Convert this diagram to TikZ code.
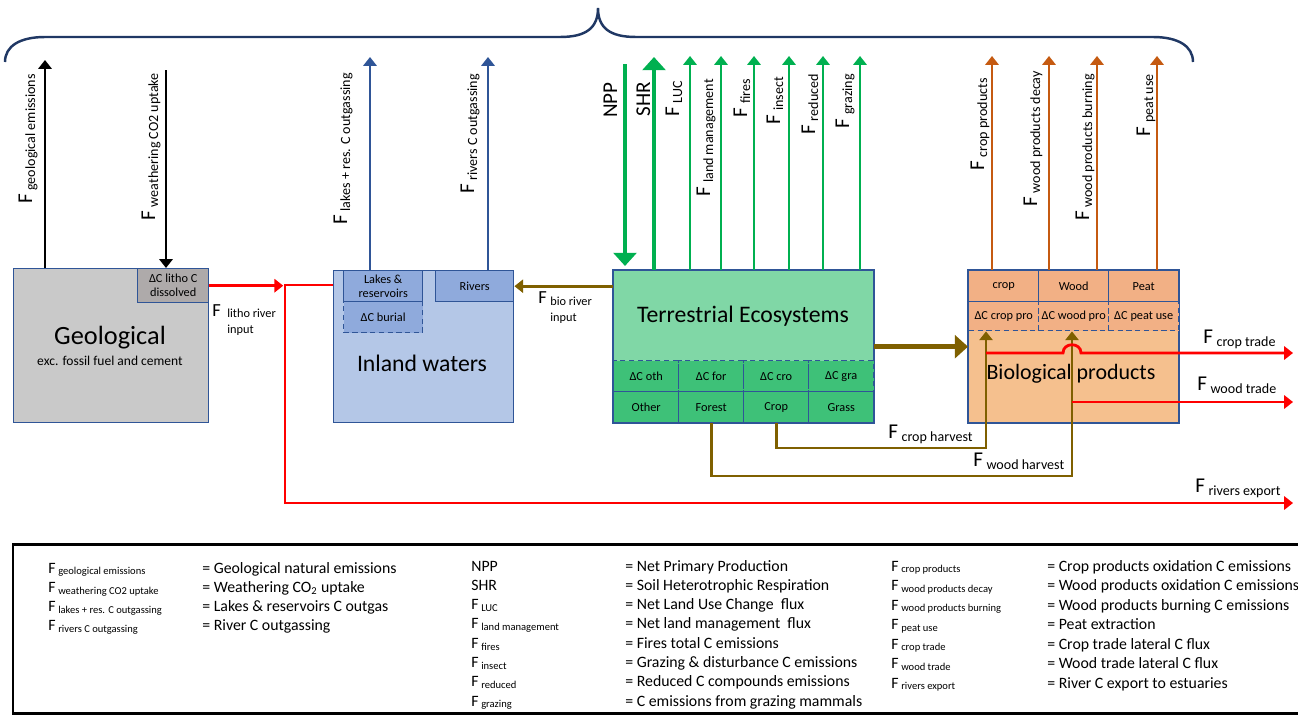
\documentclass[tikz,border=0pt]{standalone}
\usepackage{fontspec}
\setmainfont{Carlito}
\usetikzlibrary{arrows.meta,positioning}

\definecolor{bordblue}{RGB}{47,85,151}
\definecolor{bracenavy}{RGB}{32,56,100}
\definecolor{geofill}{RGB}{201,201,201}
\definecolor{lithofill}{RGB}{174,170,170}
\definecolor{waterfill}{RGB}{180,199,231}
\definecolor{waterbox}{RGB}{143,170,220}
\definecolor{terrfill}{RGB}{128,215,166}
\definecolor{terrcell}{RGB}{62,193,120}
\definecolor{biofill}{RGB}{245,192,142}
\definecolor{biocell}{RGB}{242,176,133}
\definecolor{fluxgreen}{RGB}{0,176,80}
\definecolor{fluxorange}{RGB}{197,90,17}
\definecolor{fluxbrown}{RGB}{127,96,0}
\definecolor{fluxred}{RGB}{255,0,0}

\newcommand{\Fs}[1]{F\,\textsubscript{#1}}

\tikzset{
  box/.style={draw=bordblue, line width=0.8pt, inner sep=0pt, anchor=north west},
  cell/.style={box, font=\fontsize{7}{8}\selectfont, align=center},
  flux/.style={line width=1.6pt, -{Triangle[width=7.5pt,length=5pt]}},
  fluxthick/.style={line width=2.8pt, -{Triangle[width=13pt,length=7.5pt]}},
  vlab/.style={rotate=90, anchor=base east, inner sep=0pt, font=\fontsize{12}{12}\selectfont},
  hlab/.style={anchor=base west, inner sep=0pt, font=\fontsize{12}{12}\selectfont},
  legend/.style={anchor=base west, inner sep=0pt, font=\fontsize{9}{9}\selectfont},
}

\begin{document}
\begin{tikzpicture}[x=0.02cm, y=-0.02cm]
  \useasboundingbox (0,0) rectangle (1298,720);
  \clip (0,0) rectangle (1298,720);

  % brace over the emissions
  \draw[bracenavy, line width=1.4pt] (5,62) .. controls (5,46) and (20,37) .. (45,37)
    -- (560,37) .. controls (586,37) and (598,28) .. (598,8)
    .. controls (598,28) and (610,37) .. (636,37)
    -- (1153,37) .. controls (1178,37) and (1193,46) .. (1193,62);

  % Geological
  \node[box, fill=geofill, minimum width=3.9cm, minimum height=3.08cm] (geo) at (13,268) {};
  \node[cell, fill=lithofill, minimum width=1.42cm, minimum height=0.68cm] (litho) at (137,268) {ΔC litho C\\dissolved};
  \node[font=\fontsize{15}{15}\selectfont] (geotxt) at (110,338) {Geological};
  \node[font=\fontsize{7.7}{8}\selectfont] (geosub) at (110,361) {exc. fossil fuel and cement};

  % Inland waters
  \node[box, fill=waterfill, minimum width=3.6cm, minimum height=3.04cm] (inland) at (333,270) {};
  \node[cell, fill=waterbox, minimum width=1.58cm, minimum height=0.62cm] (lakes) at (343,270) {Lakes \&\\reservoirs};
  \node[cell, fill=waterbox, densely dashed, minimum width=1.58cm, minimum height=0.62cm] (burial) at (343,301) {ΔC burial};
  \node[cell, fill=waterbox, minimum width=1.56cm, minimum height=0.62cm] (rivers) at (435,270) {Rivers};
  \node[font=\fontsize{13.5}{14}\selectfont] (inltxt) at (422,363) {Inland waters};

  % Terrestrial ecosystems
  \node[box, fill=terrfill, minimum width=5.2cm, minimum height=3.04cm] (terr) at (613,270) {};
  \foreach \nm/\lab [count=\i from 0] in {oth/Other, for/Forest, cro/Crop, gra/Grass} {
    \node[cell, fill=terrcell, densely dashed, minimum width=1.3cm, minimum height=0.62cm] (d\nm) at ({613+65*\i},360) {ΔC \nm};
    \node[cell, fill=terrcell, minimum width=1.3cm, minimum height=0.62cm] (c\nm) at ({613+65*\i},391) {\lab};
  }
  \draw[bordblue, line width=0.8pt] (terr.north west) rectangle (terr.south east);
  \node[font=\fontsize{13.5}{14}\selectfont] (terrtxt) at (743,316) {Terrestrial Ecosystems};

  % Biological products
  \node[box, fill=biofill, minimum width=4.2cm, minimum height=3.04cm] (bio) at (968,270) {};
  \foreach \nm/\toplab/\dl [count=\i from 0] in {crop/crop/crop pro, wood/Wood/wood pro, peat/Peat/peat use} {
    \node[cell, fill=biocell, minimum width=1.4cm, minimum height=0.62cm] (p\nm) at ({968+70*\i},270) {\toplab};
    \node[cell, fill=biocell, densely dashed, minimum width=1.4cm, minimum height=0.58cm] (d\nm) at ({968+70*\i},301) {ΔC \dl};
  }
  \draw[bordblue, line width=0.8pt] (bio.north west) rectangle (bio.south east);
  \node[font=\fontsize{12.5}{13}\selectfont] (biotxt) at (1071,374) {Biological products};

  % vertical fluxes, geological
  \coordinate (egeo) at (45,60);
  \coordinate (swth) at (166,70);
  \draw[flux, black] (egeo |- geo.north) -- (egeo);
  \draw[flux, black] (swth) -- (swth |- geo.north);
  \node[vlab] (lgeo) at (32,73) {\Fs{geological emissions}};
  \node[vlab] (lwth) at (155,72) {\Fs{weathering CO2 uptake}};

  % vertical fluxes, inland waters
  \foreach \x/\nm/\lx/\ty/\sub in {370/lk/347/72/lakes + res. C outgassing, 488/rv/474/73/rivers C outgassing} {
    \coordinate (e\nm) at (\x,57);
    \draw[flux, bordblue] (e\nm |- inland.north) -- (e\nm);
    \node[vlab] (l\nm) at (\lx,\ty) {\Fs{\sub}};
  }

  % vertical fluxes, terrestrial
  \coordinate (snpp) at (625,64);
  \coordinate (eshr) at (654,57);
  \draw[fluxthick, fluxgreen, shorten >=0.08cm] (snpp) -- (snpp |- terr.north);
  \draw[fluxthick, fluxgreen] (eshr |- terr.north) -- (eshr);
  \node[vlab] (lnpp) at (617,82) {NPP};
  \node[vlab] (lshr) at (650,82) {SHR};
  \foreach \x/\nm/\lx/\ty/\sub in {690/luc/679/80/LUC, 721/lm/710/78/land management, 754/fir/747/78/fires,
      789/ins/780/76/insect, 823/red/815/73/reduced, 860/grz/849/73/grazing} {
    \coordinate (e\nm) at (\x,56);
    \draw[flux, fluxgreen] (e\nm |- terr.north) -- (e\nm);
    \node[vlab] (l\nm) at (\lx,\ty) {\Fs{\sub}};
  }

  % vertical fluxes, products
  \foreach \x/\nm/\lx/\ty/\sub in {992/cp/984/77/crop products, 1049/wd/1037/70/wood products decay,
      1097/wb/1089/73/wood products burning, 1157/pu/1150/73/peat use} {
    \coordinate (e\nm) at (\x,56);
    \draw[flux, fluxorange] (e\nm |- bio.north) -- (e\nm);
    \node[vlab] (l\nm) at (\lx,\ty) {\Fs{\sub}};
  }

  % lateral fluxes
  \coordinate (junc) at (285,285);
  \coordinate (eexp) at (1293,503);
  \draw[flux, fluxred, shorten >=1pt] (litho.east) -- (litho.east -| junc);
  \draw[flux, fluxred] (inland.west |- junc) -- (junc) -- (junc |- eexp) -- (eexp);
  \node[anchor=base west, inner sep=0pt, font=\fontsize{10.5}{11}\selectfont] (lithoF) at (212,316) {F};
  \node[anchor=north west, inner sep=0pt, align=left, font=\fontsize{7}{9}\selectfont] (lithoS) at (227,309) {litho river\\input};
  \node[hlab] (lexp) at (1195,492) {\Fs{rivers export}};

  \draw[flux, fluxbrown] (rivers.east -| terr.west) -- (rivers.east);
  \node[anchor=base west, inner sep=0pt, font=\fontsize{10.5}{11}\selectfont] (bioinF) at (538,303) {F};
  \node[anchor=north west, inner sep=0pt, align=left, font=\fontsize{7}{9}\selectfont] (bioinS) at (550,297) {bio river\\input};

  \draw[fluxthick, fluxbrown] (terr.east) -- (bio.west);

  % harvest
  \coordinate (hcrop) at (986,448);
  \coordinate (hwood) at (1072,476);
  \draw[flux, fluxbrown] (ccro.south) |- (hcrop) -- (hcrop |- dcrop.south);
  \draw[flux, fluxbrown] (cfor.south) |- (hwood) -- (hwood |- dwood.south);
  \node[hlab] (lch) at (888,438) {\Fs{crop harvest}};
  \node[hlab] (lwh) at (973,466) {\Fs{wood harvest}};

  % trade
  \coordinate (ect) at (1293,353);
  \coordinate (ewt) at (1293,402);
  \draw[flux, fluxred] (hcrop |- ect) -- (1063,353) .. controls (1063,342) and (1081,342) .. (1081,353) -- (ect);
  \draw[flux, fluxred] (hwood |- ewt) -- (ewt);
  \node[hlab] (lct) at (1203,343) {\Fs{crop trade}};
  \node[hlab] (lwt) at (1197,390) {\Fs{wood trade}};

  % legend
  \draw[line width=1.7pt] (13,544) rectangle (1310,713);
  \foreach \lab/\desc [count=\i from 0] in {
      {\Fs{geological emissions}}/{= Geological natural emissions},
      {\Fs{weathering CO2 uptake}}/{= Weathering CO\textsubscript{2} uptake},
      {\Fs{lakes + res. C outgassing}}/{= Lakes \& reservoirs C outgas},
      {\Fs{rivers C outgassing}}/{= River C outgassing}} {
    \node[legend] (la\i) at (48,{573+19.3*\i}) {\lab};
    \node[legend] (da\i) at (202,{573+19.3*\i}) {\desc};
  }
  \foreach \lab/\desc [count=\i from 0] in {
      {NPP}/{= Net Primary Production},
      {SHR}/{= Soil Heterotrophic Respiration},
      {\Fs{LUC}}/{= Net Land Use Change\ \ flux},
      {\Fs{land management}}/{= Net land management\ \ flux},
      {\Fs{fires}}/{= Fires total C emissions},
      {\Fs{insect}}/{= Grazing \& disturbance C emissions},
      {\Fs{reduced}}/{= Reduced C compounds emissions},
      {\Fs{grazing}}/{= C emissions from grazing mammals}} {
    \node[legend] (lb\i) at (471,{571+19.3*\i}) {\lab};
    \node[legend] (db\i) at (625,{571+19.3*\i}) {\desc};
  }
  \foreach \lab/\desc [count=\i from 0] in {
      {\Fs{crop products}}/{= Crop products oxidation C emissions},
      {\Fs{wood products decay}}/{= Wood products oxidation C emissions},
      {\Fs{wood products burning}}/{= Wood products burning C emissions},
      {\Fs{peat use}}/{= Peat extraction},
      {\Fs{crop trade}}/{= Crop trade lateral C flux},
      {\Fs{wood trade}}/{= Wood trade lateral C flux},
      {\Fs{rivers export}}/{= River C export to estuaries}} {
    \node[legend] (lc\i) at (891,{571+19.5*\i}) {\lab};
    \node[legend] (dc\i) at (1047,{571+19.5*\i}) {\desc};
  }
\end{tikzpicture}
\end{document}
